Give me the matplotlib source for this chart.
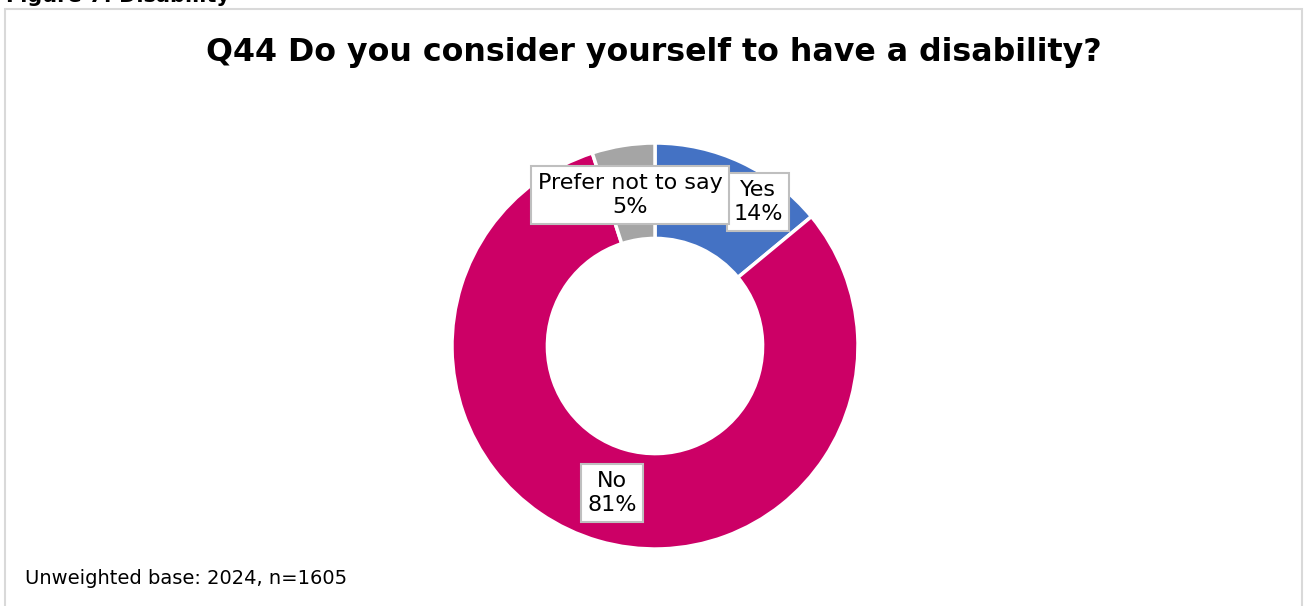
import matplotlib.pyplot as plt
from matplotlib.patches import Rectangle

categories = ["Yes", "No", "Prefer not to say"]
shares = [14, 81, 5]
colors = ["#4472C4", "#CC0066", "#A5A5A5"]
# label centres in axes data units (pie radius = 1)
label_pos = [(0.507, 0.71), (-0.212, -0.724), (-0.123, 0.744)]

W, H = 1304, 606
fig = plt.figure(figsize=(W / 100, H / 100), dpi=100)
plt.rcParams["font.family"] = ["DejaVu Sans"]

# chart frame
fig.patches.append(Rectangle((5 / W, -0.05), 1297 / W, 1.05 - 9 / H,
                             transform=fig.transFigure, fill=False,
                             edgecolor="#D9D9D9", linewidth=1.5))

fig.text(6 / W, 1 + 4 / H, "Figure 7: Disability", ha="left", va="center",
         fontsize=15, fontweight="bold")
fig.text(654 / W, 1 - 53 / H, "Q44 Do you consider yourself to have a disability?",
         ha="center", va="center", fontsize=22.8, fontweight="bold")
fig.text(25 / W, 1 - 579 / H, "Unweighted base: 2024, n=1605",
         ha="left", va="center", fontsize=14)

cx, cy, r = 655, 346, 203
ax = fig.add_axes([(cx - r) / W, (H - cy - r) / H, 2 * r / W, 2 * r / H])
ax.pie(shares, colors=colors, startangle=90, counterclock=False,
       radius=1, wedgeprops=dict(width=0.47, edgecolor="white", linewidth=2.5))
ax.set_xlim(-1, 1)
ax.set_ylim(-1, 1)
ax.set_aspect("equal")
ax.axis("off")

for cat, val, (x, y) in zip(categories, shares, label_pos):
    ax.text(x, y, f"{cat}\n{val}%", ha="center", va="center", fontsize=16,
            linespacing=1.25,
            bbox=dict(boxstyle="square,pad=0.3", facecolor="white",
                      edgecolor="#BFBFBF", linewidth=1.5))

fig.savefig("out.png", dpi=100)
